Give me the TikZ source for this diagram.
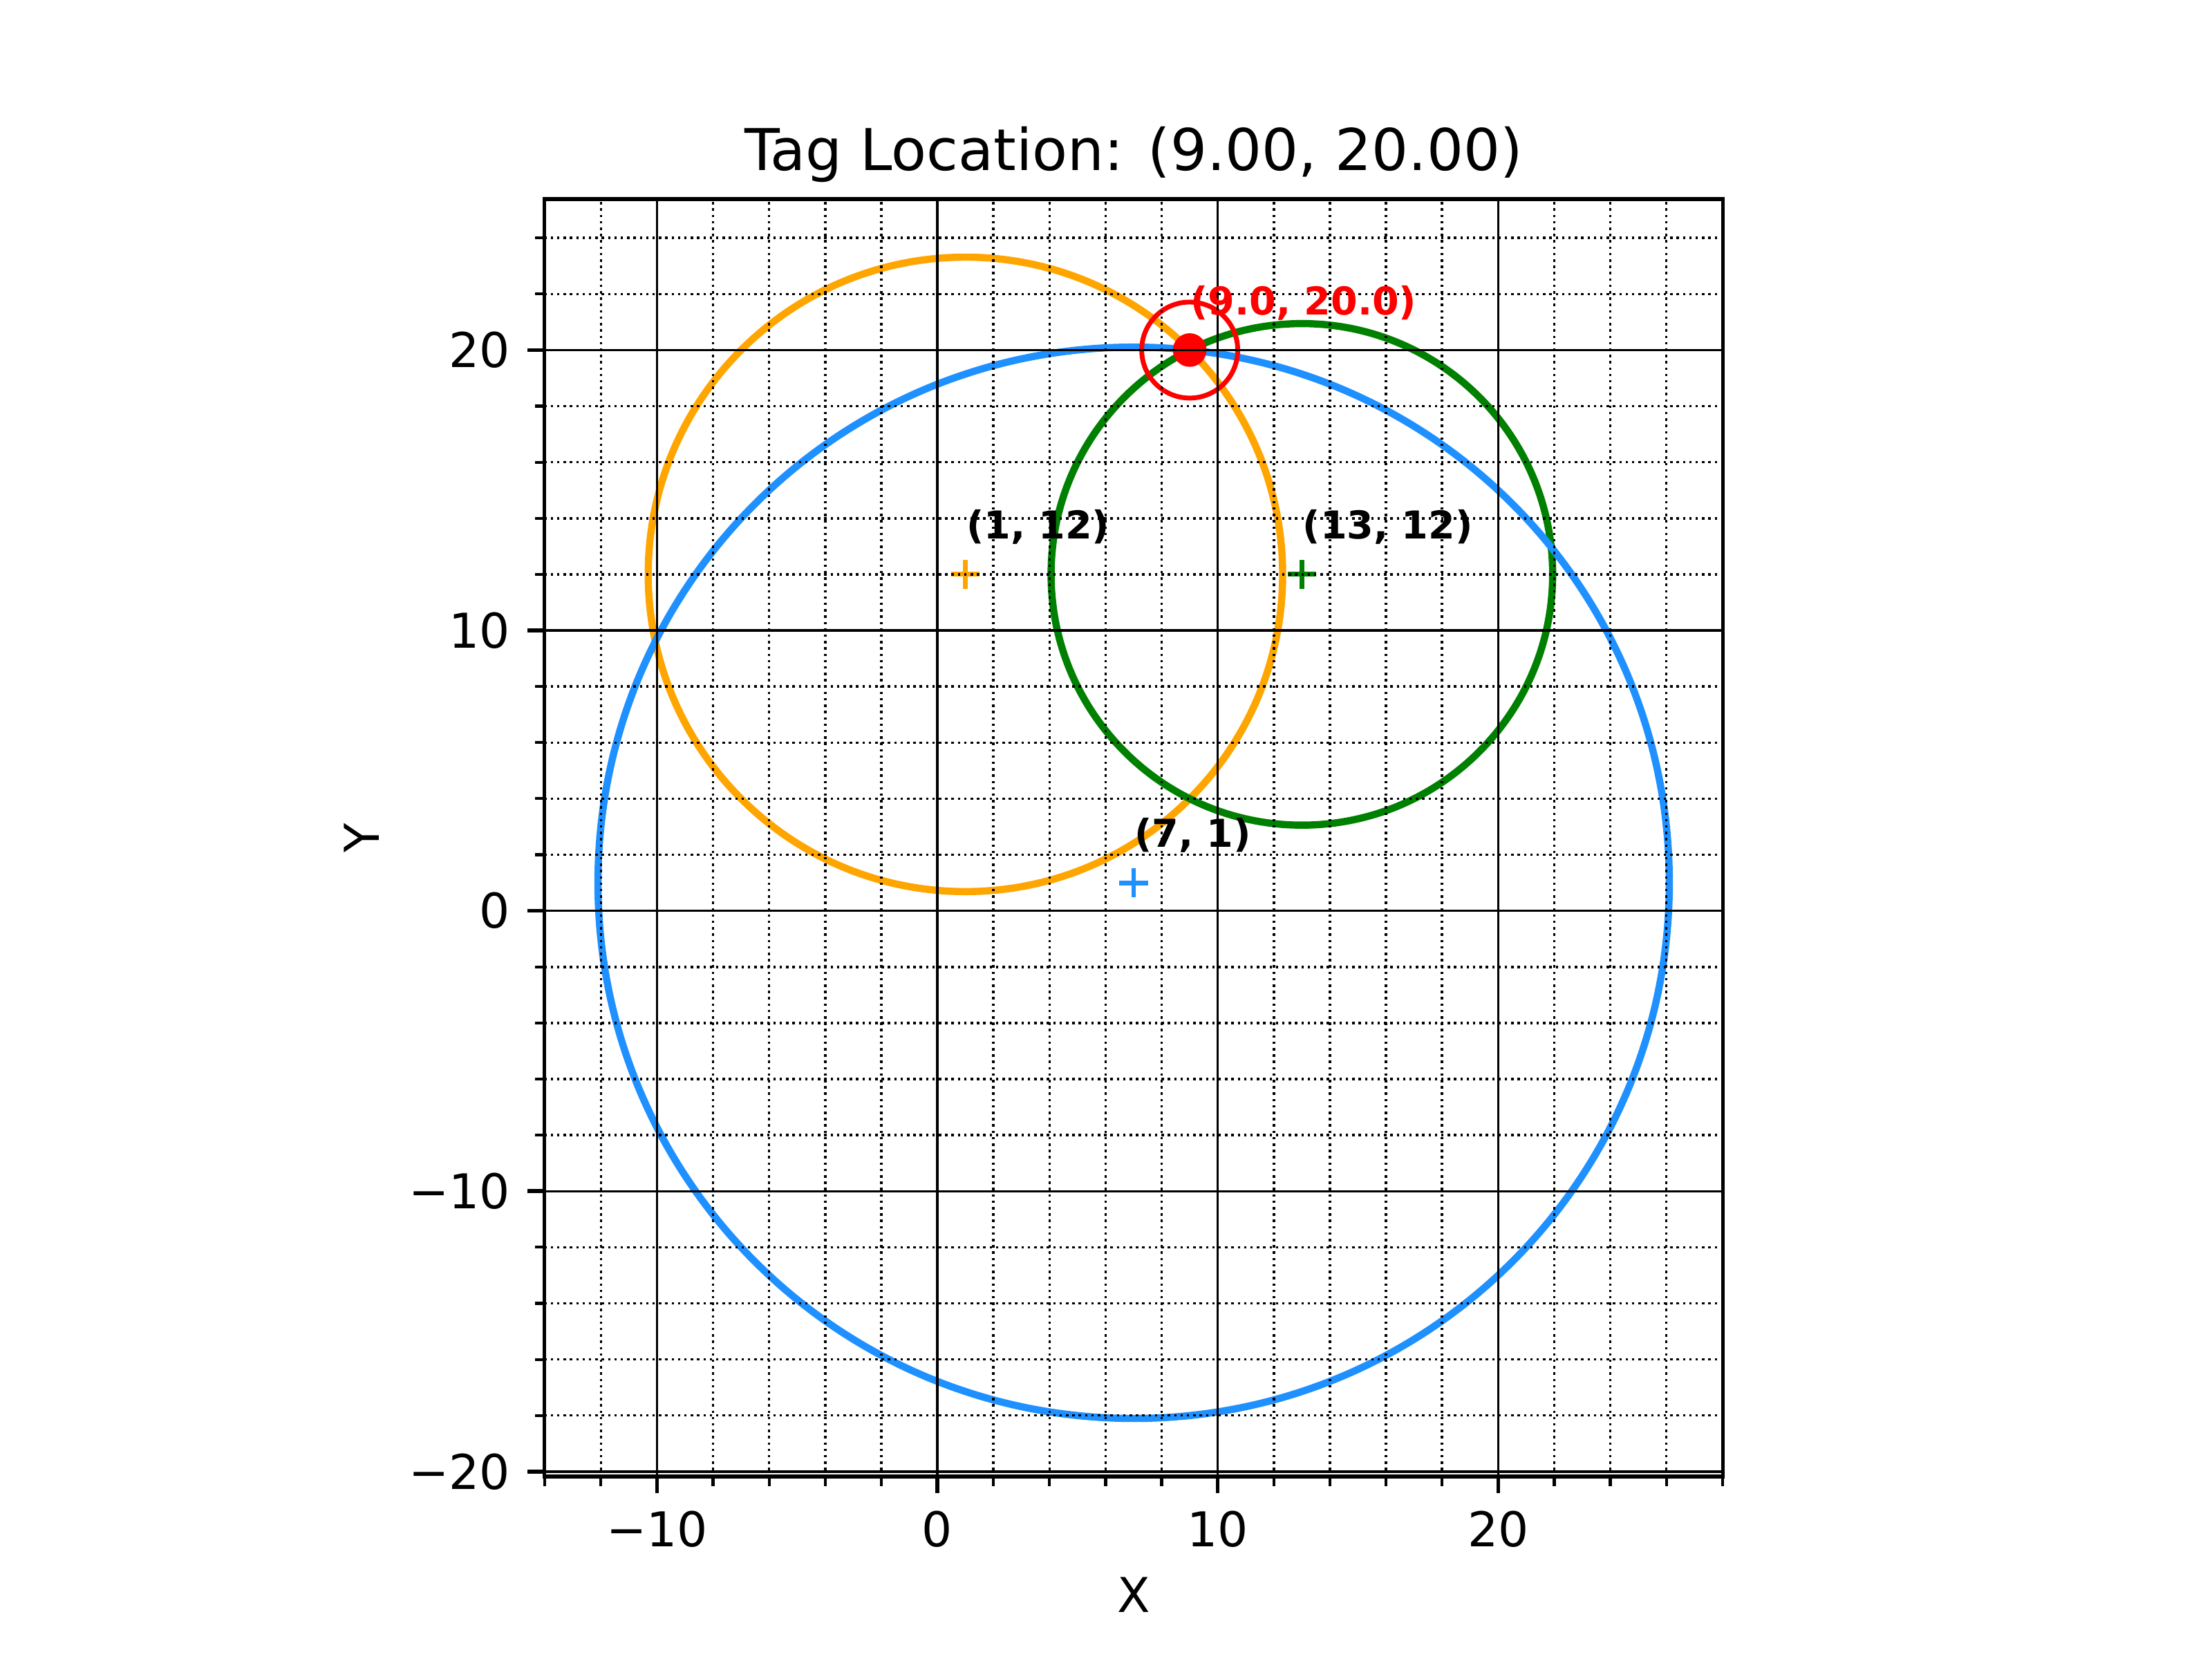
\documentclass[tikz,border=0pt]{standalone}
\usepackage{fontspec}
\setmainfont{DejaVu Sans}
\definecolor{mplorange}{HTML}{FFA500}
\definecolor{mplgreen}{HTML}{008000}
\definecolor{mplblue}{HTML}{1E90FF}
\definecolor{mplred}{HTML}{FF0000}
\begin{document}
\begin{tikzpicture}[x=5.84084pt,y=5.84084pt,
  circ/.style={line width=1.5pt},
  plusmark/.style={line width=1pt, line cap=butt},
  gridmajor/.style={black, line width=0.5pt},
  gridminor/.style={black, line width=0.5pt, dash pattern=on 0.5pt off 0.825pt},
  majtick/.style={black, line width=0.8pt},
  mintick/.style={black, line width=0.6pt},
  ticklab/.style={inner sep=0pt, font=\fontsize{10}{12}\selectfont},
  ptlab/.style={inner sep=0pt, anchor=base west, font=\fontsize{8}{9.6}\selectfont\bfseries}
]
\def\xmin{-14.01547}
\def\xmax{28.01547}
\def\ymin{-20.17591}
\def\ymax{25.38464}
\useasboundingbox (-33.4325,-26.68456) rectangle (45.4601,32.48498);

% anchor points
\coordinate (A) at (1,12);
\coordinate (B) at (13,12);
\coordinate (C) at (7,1);
\coordinate (T) at (9,20);

% range circles
\draw[circ, mplorange] (A) circle[radius=11.31371];
\draw[circ, mplgreen] (B) circle[radius=8.94427];
\draw[circ, mplblue] (C) circle[radius=19.10497];

% anchor markers
\foreach \p/\c in {A/mplorange, B/mplgreen, C/mplblue}{
  \draw[plusmark, \c] ([xshift=-3pt]\p) -- ([xshift=3pt]\p);
  \draw[plusmark, \c] ([yshift=-3pt]\p) -- ([yshift=3pt]\p);
}

% tag marker
\fill[mplred] (T) circle[radius=3.5pt];
\draw[mplred, line width=1pt] (T) circle[radius=10pt];

% grid
\foreach \x in {-14,-12,-8,-6,-4,-2,2,4,6,8,12,14,16,18,22,24,26,28}
  \draw[gridminor] (\x,\ymin) -- (\x,\ymax);
\foreach \y in {-18,-16,-14,-12,-8,-6,-4,-2,2,4,6,8,12,14,16,18,22,24}
  \draw[gridminor] (\xmin,\y) -- (\xmax,\y);
\foreach \x in {-10,0,10,20}
  \draw[gridmajor] (\x,\ymin) -- (\x,\ymax);
\foreach \y in {-20,-10,0,10,20}
  \draw[gridmajor] (\xmin,\y) -- (\xmax,\y);

% spines
\draw[black, line width=0.8pt] (\xmin,\ymin) rectangle (\xmax,\ymax);

% ticks
\foreach \x in {-14,-12,-8,-6,-4,-2,2,4,6,8,12,14,16,18,22,24,26,28}
  \draw[mintick] (\x,\ymin) -- ++(0,-2pt);
\foreach \y in {-18,-16,-14,-12,-8,-6,-4,-2,2,4,6,8,12,14,16,18,22,24}
  \draw[mintick] (\xmin,\y) -- ++(-2pt,0);
\foreach \x in {-10,0,10,20}
  \draw[majtick] (\x,\ymin) -- ++(0,-3.5pt);
\foreach \y in {-20,-10,0,10,20}
  \draw[majtick] (\xmin,\y) -- ++(-3.5pt,0);

% tick labels
\node[ticklab, anchor=north] (xtA) at ([yshift=-7pt]-10,\ymin) {−10};
\node[ticklab, anchor=north] (xtB) at ([yshift=-7pt]0,\ymin) {0};
\node[ticklab, anchor=north] (xtC) at ([yshift=-7pt]10,\ymin) {10};
\node[ticklab, anchor=north] (xtD) at ([yshift=-7pt]20,\ymin) {20};
\node[ticklab, anchor=east] (ytA) at ([xshift=-7pt]\xmin,-20) {−20};
\node[ticklab, anchor=east] (ytB) at ([xshift=-7pt]\xmin,-10) {−10};
\node[ticklab, anchor=east] (ytC) at ([xshift=-7pt]\xmin,0) {0};
\node[ticklab, anchor=east] (ytD) at ([xshift=-7pt]\xmin,10) {10};
\node[ticklab, anchor=east] (ytE) at ([xshift=-7pt]\xmin,20) {20};

% axis labels and title
\node[ticklab] (xlab) at (7.0,-24.384) {X};
\node[ticklab, rotate=90] (ylab) at (-20.531,2.6044) {Y};
\node[inner sep=0pt, anchor=base, font=\fontsize{12}{14.4}\selectfont] (title) at (7.0,26.412) {Tag Location: (9.00, 20.00)};

% point labels
\node[ptlab] (labA) at (1,13.26) {(1, 12)};
\node[ptlab] (labB) at (13,13.26) {(13, 12)};
\node[ptlab] (labC) at (7,2.26) {(7, 1)};
\node[ptlab, text=mplred] (labT) at (9,21.25) {(9.0, 20.0)};
\end{tikzpicture}
\end{document}
